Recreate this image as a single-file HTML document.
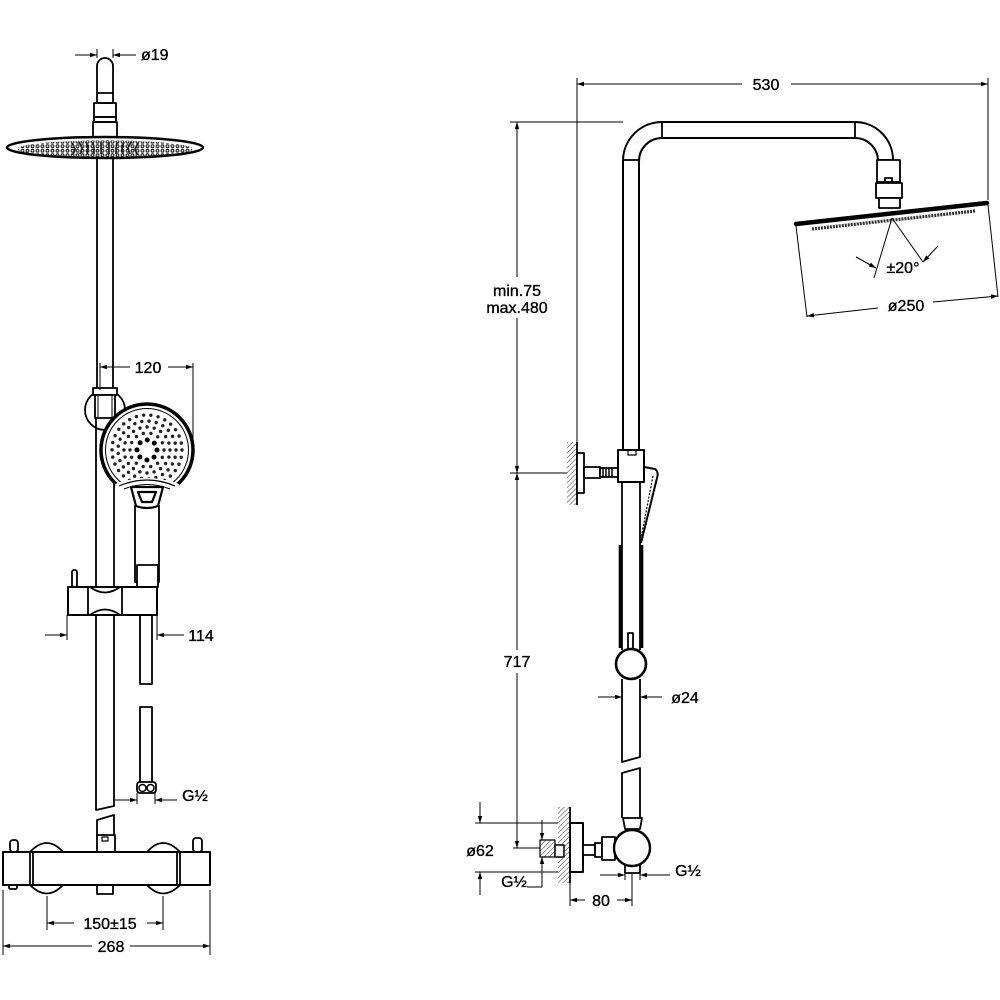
<!DOCTYPE html>
<html>
<head>
<meta charset="utf-8">
<style>
html,body{margin:0;padding:0;background:#fff;}
svg{display:block;}
text{font-family:"Liberation Sans",sans-serif;font-size:16px;fill:#000;stroke:#000;stroke-width:0.35;}
</style>
</head>
<body>
<svg width="1000" height="1000" viewBox="0 0 1000 1000" xmlns="http://www.w3.org/2000/svg">
<defs>
<marker id="a" viewBox="0 0 10 10" refX="10" refY="5" markerWidth="10" markerHeight="7" markerUnits="userSpaceOnUse" orient="auto-start-reverse">
<path d="M0,1.8 L10,5 L0,8.2z" fill="#000"/>
</marker>
<pattern id="h" width="3.5" height="3.5" patternUnits="userSpaceOnUse" patternTransform="rotate(45)">
<line x1="0" y1="0" x2="0" y2="3.5" stroke="#333" stroke-width="1"/>
</pattern>
<pattern id="nz" width="5" height="4.5" patternUnits="userSpaceOnUse">
<circle cx="2.5" cy="2.2" r="1.4" fill="none" stroke="#222" stroke-width="1.1"/>
</pattern>
<clipPath id="disc"><ellipse cx="105" cy="149" rx="88" ry="8.5"/></clipPath>
</defs>

<g fill="none" stroke="#000" stroke-width="1.8" stroke-linejoin="round">

<!-- ================= LEFT VIEW ================= -->
<path d="M97,93 L97,66 A8,8 0 0 1 113,66 L113,93" />
<rect x="97" y="93" width="16" height="10"/>
<rect x="94" y="103" width="22" height="14"/>
<rect x="94" y="117" width="22" height="5"/>
<rect x="93" y="122" width="24" height="15"/>
<ellipse cx="105" cy="147.5" rx="98" ry="10.5" stroke-width="2.5" fill="#fff"/>
<rect x="18" y="140" width="174" height="18" fill="url(#nz)" stroke="none" clip-path="url(#disc)"/>
<g stroke="#222" stroke-width="1.7">
<path d="M72,143 l3,6 l-2,6 M79,142 l3,6 l-2,6 M86,142 l2,6 l-1,6 M93,142 l1,6 l0,6 M101,142 v12 M109,142 v12 M117,142 l-1,6 l0,6 M124,142 l-2,6 l1,6 M131,142 l-3,6 l2,6 M138,143 l-3,6 l2,6"/>
</g>
<line x1="97" y1="158" x2="97" y2="388"/>
<line x1="113" y1="158" x2="113" y2="388"/>
<circle cx="105" cy="410" r="20" fill="#fff"/>
<rect x="93" y="388" width="24" height="7" fill="#fff"/>
<rect x="95" y="395" width="20" height="23" fill="#fff"/>
<line x1="98" y1="395" x2="98" y2="418" stroke-width="1"/>
<line x1="112" y1="395" x2="112" y2="418" stroke-width="1"/>
<line x1="96" y1="418" x2="96" y2="587"/>
<line x1="114" y1="418" x2="114" y2="587"/>
<path d="M135,505 L135,582 L159,582 L159,505" fill="#fff"/>
<rect x="137" y="565" width="21" height="22" fill="#fff"/>
<circle cx="147" cy="450" r="46" fill="#fff" stroke-width="3.5"/>
<circle cx="147" cy="450" r="41.5" stroke-width="1"/>
<g stroke-linecap="round">
<circle cx="147" cy="450" r="10" stroke-width="5" stroke-dasharray="0 7.85"/>
<circle cx="147" cy="450" r="17" stroke-width="3.4" stroke-dasharray="0 7.63" stroke="#222"/>
<circle cx="147" cy="450" r="23" stroke-width="3.4" stroke-dasharray="0 7.22" stroke="#222"/>
<circle cx="147" cy="450" r="29" stroke-width="3.4" stroke-dasharray="0 7.29" stroke="#222"/>
<circle cx="147" cy="450" r="35" stroke-width="3.4" stroke-dasharray="0 7.33" stroke="#222"/>
</g>
<path d="M115,484 Q147,472 179,484 L175,496 L119,496 Z" fill="#fff" stroke="none"/>
<path d="M119,486 Q147,474 175,486" stroke-width="1.2"/>
<path d="M124,489 Q147,480 170,489" stroke-width="1"/>
<path d="M131,487 L163,487 L158,506 Q147,510 136,506 Z" fill="#fff" stroke-width="2.2"/>
<path d="M138,492 L156,492 L152,502 L142,502 Z" stroke-width="2.2"/>

<rect x="72" y="570" width="5" height="17" rx="2" fill="#fff"/>
<rect x="68" y="587" width="89" height="28" fill="#fff" stroke-width="2"/>
<line x1="88" y1="587" x2="88" y2="615"/>
<line x1="122" y1="587" x2="122" y2="615"/>
<path d="M90,587 Q105,598 120,587" />
<path d="M90,615 Q105,604 120,615" />
<path d="M96,615 L96,810 L114,806 L114,615"/>
<path d="M97,838 L97,820 L114,815 L114,838"/>
<rect x="97" y="835" width="18" height="17" fill="#fff"/>
<rect x="102" y="837" width="6" height="4" stroke-width="1.2"/>
<path d="M140,615 L140,684 L152,684 L152,615"/>
<path d="M140,783 L140,707 L152,707 L152,783"/>
<rect x="137" y="782" width="19" height="11" rx="3" fill="#fff"/>
<circle cx="142.5" cy="788" r="3.5" stroke-width="1.5"/>
<circle cx="150.5" cy="788" r="3.5" stroke-width="1.5"/>

<path d="M30,852 Q47,834 63,852" fill="#fff"/>
<path d="M30,885 Q47,902 63,885" fill="#fff"/>
<path d="M147,852 Q163,834 180,852" fill="#fff"/>
<path d="M147,885 Q163,902 180,885" fill="#fff"/>
<rect x="10" y="840" width="8" height="12" rx="3" fill="#fff"/>
<rect x="193" y="838" width="9" height="14" rx="3" fill="#fff"/>
<rect x="9" y="885" width="8" height="4" rx="1.5"/>
<rect x="97" y="885" width="16" height="9"/>
<rect x="3" y="852" width="207" height="33" fill="#fff" stroke-width="2"/>
<line x1="30" y1="852" x2="30" y2="885"/>
<line x1="33" y1="852" x2="33" y2="885"/>
<line x1="177" y1="852" x2="177" y2="885"/>
<line x1="180" y1="852" x2="180" y2="885"/>

<!-- ================= RIGHT VIEW ================= -->
<path d="M623,450 L623,161 A39,39 0 0 1 662,122 L855,122 A38,38 0 0 1 893,160" stroke-width="2"/>
<path d="M639,450 L639,161 A23,23 0 0 1 662,138 L855,138 A23,23 0 0 1 878,161" stroke-width="2"/>
<line x1="662" y1="122" x2="662" y2="138"/>
<line x1="855" y1="122" x2="855" y2="138"/>
<line x1="623" y1="160" x2="639" y2="160"/>
<line x1="878" y1="160" x2="893" y2="160"/>
<rect x="877" y="160" width="23" height="22" fill="#fff"/>
<rect x="885" y="178" width="7" height="4"/>
<rect x="876" y="183" width="26" height="15" fill="#fff"/>
<rect x="879" y="198" width="21" height="10" fill="#fff"/>
<line x1="796" y1="224" x2="987" y2="203" stroke-width="4.5" stroke-linecap="round"/>
<line x1="812" y1="229" x2="975" y2="211" stroke-width="3.2" stroke="#333" stroke-dasharray="2 1"/>
<line x1="796" y1="226" x2="807" y2="317" stroke-width="1"/>
<line x1="988" y1="205" x2="998" y2="297" stroke-width="1"/>
<line x1="892" y1="218" x2="874" y2="278" stroke-width="1"/>
<line x1="892" y1="218" x2="923" y2="262" stroke-width="1"/>

<rect x="567" y="442" width="10" height="63" fill="url(#h)" stroke="none"/>
<line x1="577" y1="442" x2="577" y2="505"/>
<rect x="577" y="453" width="7" height="40" fill="#fff"/>
<rect x="584" y="467" width="16" height="11" fill="#fff"/>
<rect x="600" y="468" width="18" height="9" fill="#fff"/>
<path d="M603,468 v9 M606,468 v9 M609,468 v9 M612,468 v9" stroke-width="1.5"/>
<rect x="618" y="450" width="26" height="32" fill="#fff" stroke-width="2"/>
<rect x="628" y="450" width="8" height="5" stroke-width="1.2"/>
<line x1="622" y1="482" x2="622" y2="650"/>
<line x1="640" y1="482" x2="640" y2="650"/>
<path d="M644,467 L655,469 Q659,472 657,478 L641,543" stroke-width="2"/>
<path d="M653,476 L641,538" stroke-width="1.2" stroke-dasharray="2 1.5"/>
<line x1="620" y1="545" x2="620" y2="648" stroke-width="2.6"/>
<line x1="642" y1="545" x2="642" y2="648" stroke-width="2.6"/>
<rect x="628" y="633" width="5" height="16" fill="#fff"/>
<circle cx="631" cy="664" r="15" fill="#fff" stroke-width="2.6"/>
<path d="M622,679 L622,762 L640,757 L640,679"/>
<path d="M622,818 L622,773 L640,768 L640,818"/>
<path d="M623,818 L642,818 L640,829 L625,829 Z" fill="#fff"/>
<rect x="540" y="840" width="15" height="17" fill="url(#h)" stroke-width="1.2"/>
<rect x="558" y="807" width="12" height="76" fill="url(#h)" stroke="none"/>
<line x1="570" y1="807" x2="570" y2="883"/>
<rect x="555" y="845" width="9" height="12" fill="#fff" stroke-width="1.5"/>
<rect x="570" y="823" width="13" height="49" fill="#fff" stroke-width="2"/>
<rect x="583" y="845" width="12" height="10" fill="#fff"/>
<rect x="595" y="843" width="7" height="14" fill="#fff"/>
<rect x="602" y="837" width="13" height="23" fill="#fff"/>
<rect x="625" y="864" width="15" height="9" fill="#fff"/>
<circle cx="632" cy="848" r="18" fill="#fff" stroke-width="2.4"/>
</g>

<!-- ================= DIMENSIONS ================= -->
<g fill="none" stroke="#000" stroke-width="1">
<line x1="97" y1="49" x2="97" y2="58"/>
<line x1="113" y1="49" x2="113" y2="58"/>
<line x1="75" y1="55" x2="97" y2="55" marker-end="url(#a)"/>
<line x1="136" y1="55" x2="113" y2="55" marker-end="url(#a)"/>
<line x1="100" y1="363" x2="100" y2="390"/>
<line x1="193" y1="363" x2="193" y2="452"/>
<line x1="130" y1="367" x2="100" y2="367" marker-end="url(#a)"/>
<line x1="168" y1="367" x2="193" y2="367" marker-end="url(#a)"/>
<line x1="67" y1="615" x2="67" y2="640"/>
<line x1="157" y1="615" x2="157" y2="640"/>
<line x1="45" y1="635" x2="67" y2="635" marker-end="url(#a)"/>
<line x1="184" y1="635" x2="157" y2="635" marker-end="url(#a)"/>
<line x1="137" y1="793" x2="137" y2="804"/>
<line x1="155" y1="793" x2="155" y2="804"/>
<line x1="115" y1="800" x2="137" y2="800" marker-end="url(#a)"/>
<line x1="177" y1="800" x2="155" y2="800" marker-end="url(#a)"/>
<line x1="47" y1="896" x2="47" y2="930"/>
<line x1="163" y1="896" x2="163" y2="930"/>
<line x1="74" y1="923" x2="47" y2="923" marker-end="url(#a)"/>
<line x1="147" y1="923" x2="163" y2="923" marker-end="url(#a)"/>
<line x1="3" y1="890" x2="3" y2="955"/>
<line x1="210" y1="890" x2="210" y2="955"/>
<line x1="92" y1="946" x2="3" y2="946" marker-end="url(#a)"/>
<line x1="130" y1="946" x2="210" y2="946" marker-end="url(#a)"/>

<line x1="577" y1="78" x2="577" y2="442"/>
<line x1="988" y1="78" x2="988" y2="200"/>
<line x1="742" y1="84" x2="577" y2="84" marker-end="url(#a)"/>
<line x1="791" y1="84" x2="988" y2="84" marker-end="url(#a)"/>
<line x1="878" y1="308" x2="807" y2="316" marker-end="url(#a)"/>
<line x1="933" y1="302" x2="998" y2="296" marker-end="url(#a)"/>
<line x1="856" y1="257" x2="876" y2="268" marker-end="url(#a)"/>
<line x1="938" y1="246" x2="923" y2="262" marker-end="url(#a)"/>
<line x1="510" y1="122" x2="623" y2="122"/>
<line x1="510" y1="473" x2="567" y2="473"/>
<line x1="517" y1="277" x2="517" y2="122" marker-end="url(#a)"/>
<line x1="517" y1="318" x2="517" y2="473" marker-end="url(#a)"/>
<line x1="517" y1="650" x2="517" y2="473" marker-end="url(#a)"/>
<line x1="517" y1="673" x2="517" y2="848" marker-end="url(#a)"/>
<line x1="513" y1="848" x2="540" y2="848"/>
<line x1="598" y1="697" x2="622" y2="697" marker-end="url(#a)"/>
<line x1="662" y1="697" x2="640" y2="697" marker-end="url(#a)"/>
<line x1="475" y1="823" x2="558" y2="823"/>
<line x1="475" y1="872" x2="558" y2="872"/>
<line x1="480" y1="802" x2="480" y2="823" marker-end="url(#a)"/>
<line x1="480" y1="895" x2="480" y2="872" marker-end="url(#a)"/>
<line x1="542" y1="820" x2="542" y2="840" marker-end="url(#a)"/>
<line x1="542" y1="887" x2="542" y2="857" marker-end="url(#a)"/>
<line x1="527" y1="887" x2="542" y2="887"/>
<line x1="625" y1="873" x2="625" y2="880"/>
<line x1="640" y1="873" x2="640" y2="880"/>
<line x1="600" y1="875" x2="625" y2="875" marker-end="url(#a)"/>
<line x1="670" y1="875" x2="640" y2="875" marker-end="url(#a)"/>
<line x1="570" y1="872" x2="570" y2="906"/>
<line x1="632" y1="873" x2="632" y2="906"/>
<line x1="585" y1="900" x2="570" y2="900" marker-end="url(#a)"/>
<line x1="617" y1="900" x2="632" y2="900" marker-end="url(#a)"/>
</g>

<g>
<text x="141" y="60">ø19</text>
<text x="148" y="373" text-anchor="middle">120</text>
<text x="201" y="641" text-anchor="middle">114</text>
<text x="195" y="801" text-anchor="middle">G½</text>
<text x="110" y="929" text-anchor="middle">150±15</text>
<text x="111" y="952" text-anchor="middle">268</text>
<text x="766" y="90" text-anchor="middle">530</text>
<text x="517" y="296" text-anchor="middle">min.75</text>
<text x="517" y="313" text-anchor="middle">max.480</text>
<text x="517" y="667" text-anchor="middle">717</text>
<text x="903" y="273" text-anchor="middle">±20°</text>
<text x="906" y="311" text-anchor="middle">ø250</text>
<text x="685" y="703" text-anchor="middle">ø24</text>
<text x="480" y="856" text-anchor="middle">ø62</text>
<text x="514" y="887" text-anchor="middle">G½</text>
<text x="688" y="876" text-anchor="middle">G½</text>
<text x="601" y="906" text-anchor="middle">80</text>
</g>
</svg>
</body>
</html>
